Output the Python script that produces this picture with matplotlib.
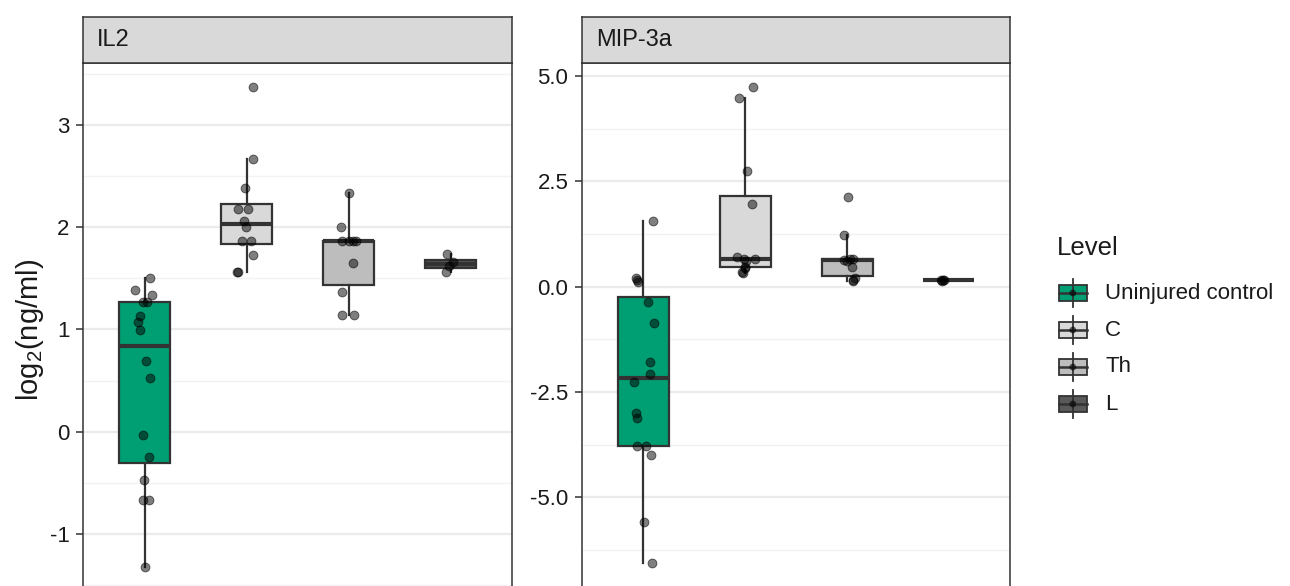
import matplotlib
matplotlib.use('Agg')
import matplotlib.pyplot as plt
from matplotlib.patches import Rectangle
from matplotlib.ticker import MultipleLocator, FormatStrFormatter

plt.rcParams['font.family'] = ['Liberation Sans', 'DejaVu Sans']
plt.rcParams['axes.unicode_minus'] = False

levels = ['Uninjured control', 'C', 'Th', 'L']
level_colors = ['#009E73', '#D9D9D9', '#BDBDBD', '#595959']
panel_titles = ['IL2', 'MIP-3a']

# IL2, log2(ng/ml), with the horizontal jitter
il2_unin = [1.50, 1.39, 1.34, 1.265, 1.265, 1.13, 1.07, 0.99, 0.69, 0.53, -0.03, -0.25, -0.47, -0.67, -0.67, -1.32]
il2_unin_jit = [0.057, -0.09, 0.07, -0.015, 0.02, -0.044, -0.06, -0.047, 0.018, 0.05, -0.018, 0.044, -0.005, -0.01, 0.044, 0.005]
il2_c = [3.375, 2.668, 2.379, 2.178, 2.178, 2.063, 2.004, 1.870, 1.870, 1.728, 1.564, 1.564]
il2_c_jit = [0.06, 0.068, -0.017, -0.08, 0.016, -0.026, -0.007, -0.04, 0.045, 0.06, -0.098, -0.085]
il2_th = [2.333, 2.004, 1.87, 1.87, 1.87, 1.87, 1.652, 1.367, 1.137, 1.137]
il2_th_jit = [0.003, -0.07, -0.065, 0.003, 0.07, 0.04, 0.049, -0.068, -0.061, 0.05]
il2_l = [1.735, 1.66, 1.62, 1.564]
il2_l_jit = [-0.032, 0.02, -0.01, -0.04]

# MIP-3a
mip_unin = [1.551, 0.198, 0.158, 0.119, -0.356, -0.862, -1.78, -2.065, -2.263, -2.99, -3.125, -3.78, -3.78, -3.995, -5.577, -6.566]
mip_unin_jit = [0.09, -0.07, -0.06, -0.05, 0.044, 0.1, 0.06, 0.066, -0.09, -0.07, -0.066, -0.066, 0.024, 0.076, 0.005, 0.083]
mip_c = [4.739, 4.47, 2.745, 1.97, 0.712, 0.649, 0.649, 0.60, 0.47, 0.435, 0.356, 0.316]
mip_c_jit = [0.075, -0.061, 0.013, 0.065, -0.08, -0.01, 0.095, 0.007, -0.003, 0.0, -0.03, -0.026]
mip_th = [2.128, 1.234, 0.665, 0.665, 0.633, 0.62, 0.459, 0.198, 0.16, 0.142]
mip_th_jit = [0.01, -0.03, 0.057, 0.03, -0.03, 0.0, 0.048, 0.075, 0.06, 0.057]
mip_l = [0.16, 0.15, 0.15, 0.14]
mip_l_jit = [-0.08, -0.06, -0.05, -0.07]

W, H = 1290, 586
EDGE = '#333333'


def rect(x0, y0, x1, y1):
    # pixel box (top-left origin) -> figure fraction
    return [x0 / W, 1 - y1 / H, (x1 - x0) / W, (y1 - y0) / H]


fig = plt.figure(figsize=(W / 100, H / 100), dpi=100)

panels = [
    dict(x0=83.3, x1=511.7, ylim=(-1.548, 3.609), major=1.0, minor=0.5, fmt='%d',
         vals=[il2_unin, il2_c, il2_th, il2_l], jit=[il2_unin_jit, il2_c_jit, il2_th_jit, il2_l_jit]),
    dict(x0=582.3, x1=1010, ylim=(-7.20, 5.316), major=2.5, minor=1.25, fmt='%.1f',
         vals=[mip_unin, mip_c, mip_th, mip_l], jit=[mip_unin_jit, mip_c_jit, mip_th_jit, mip_l_jit]),
]

for title, p in zip(panel_titles, panels):
    ax = fig.add_axes(rect(p['x0'], 62.7, p['x1'], 590))
    pos = list(range(1, len(levels) + 1))
    bp = ax.boxplot(p['vals'], positions=pos, widths=0.5, patch_artist=True,
                    showfliers=False, showcaps=False,
                    boxprops=dict(edgecolor=EDGE, linewidth=1.6),
                    whiskerprops=dict(color=EDGE, linewidth=1.6),
                    medianprops=dict(color=EDGE, linewidth=3.0, solid_capstyle='butt'))
    for patch, col in zip(bp['boxes'], level_colors):
        patch.set_facecolor(col)
    for i, (v, j) in enumerate(zip(p['vals'], p['jit'])):
        ax.scatter([pos[i] + d for d in j], v, s=40, facecolor=(0, 0, 0, 0.5),
                   edgecolor=(0, 0, 0, 0.55), linewidth=0.7, zorder=5)

    ax.set_xlim(0.4, 4.6)
    ax.set_ylim(*p['ylim'])
    ax.set_xticks([])
    ax.yaxis.set_major_locator(MultipleLocator(p['major']))
    ax.yaxis.set_minor_locator(MultipleLocator(p['minor']))
    ax.yaxis.set_major_formatter(FormatStrFormatter(p['fmt']))
    ax.set_axisbelow(True)
    ax.yaxis.grid(True, which='major', color='#EBEBEB', linewidth=1.6)
    ax.yaxis.grid(True, which='minor', color='#F2F2F2', linewidth=1.0)
    ax.tick_params(axis='y', which='major', length=5, width=1.1, color=EDGE,
                   labelsize=16, labelcolor='#1a1a1a', pad=5)
    ax.tick_params(axis='y', which='minor', length=0)
    for s in ax.spines.values():
        s.set_color(EDGE)
        s.set_linewidth(1.1)

    # facet strip
    sx = fig.add_axes(rect(p['x0'], 17.3, p['x1'], 62.7))
    sx.set_facecolor('#D9D9D9')
    sx.set_xticks([])
    sx.set_yticks([])
    for s in sx.spines.values():
        s.set_color(EDGE)
        s.set_linewidth(1.1)
    fig.text((p['x0'] + 13.4) / W, 1 - 40.5 / H, title, fontsize=17,
             color='#1a1a1a', ha='left', va='center')

fig.text(30 / W, 1 - 330 / H, r'log$_\mathregular{2}$(ng/ml)', rotation=90,
         fontsize=21, ha='center', va='center', color='#1a1a1a')

# legend, drawn in pixel space
lg = fig.add_axes([0, 0, 1, 1], facecolor='none')
lg.set_xlim(0, W)
lg.set_ylim(H, 0)
lg.axis('off')
lg.text(1057, 248, 'Level', fontsize=18.5, ha='left', va='center', color='#1a1a1a')
for i, (name, col) in enumerate(zip(levels, level_colors)):
    yc = 293 + 37 * i
    lg.plot([1073, 1073], [yc - 14, yc + 14], color=EDGE, lw=1.3)
    lg.add_patch(Rectangle((1058.5, yc - 8), 28.5, 16, facecolor=col, edgecolor=EDGE, lw=1.3))
    lg.plot([1058.5, 1087], [yc, yc], color=EDGE, lw=1.8)
    lg.scatter([1072.8], [yc], s=24, facecolor=(0, 0, 0, 0.6), edgecolor='none', zorder=5)
    lg.text(1105, yc, name, fontsize=16, ha='left', va='center', color='#1a1a1a')

fig.savefig('out.png', dpi=100)
